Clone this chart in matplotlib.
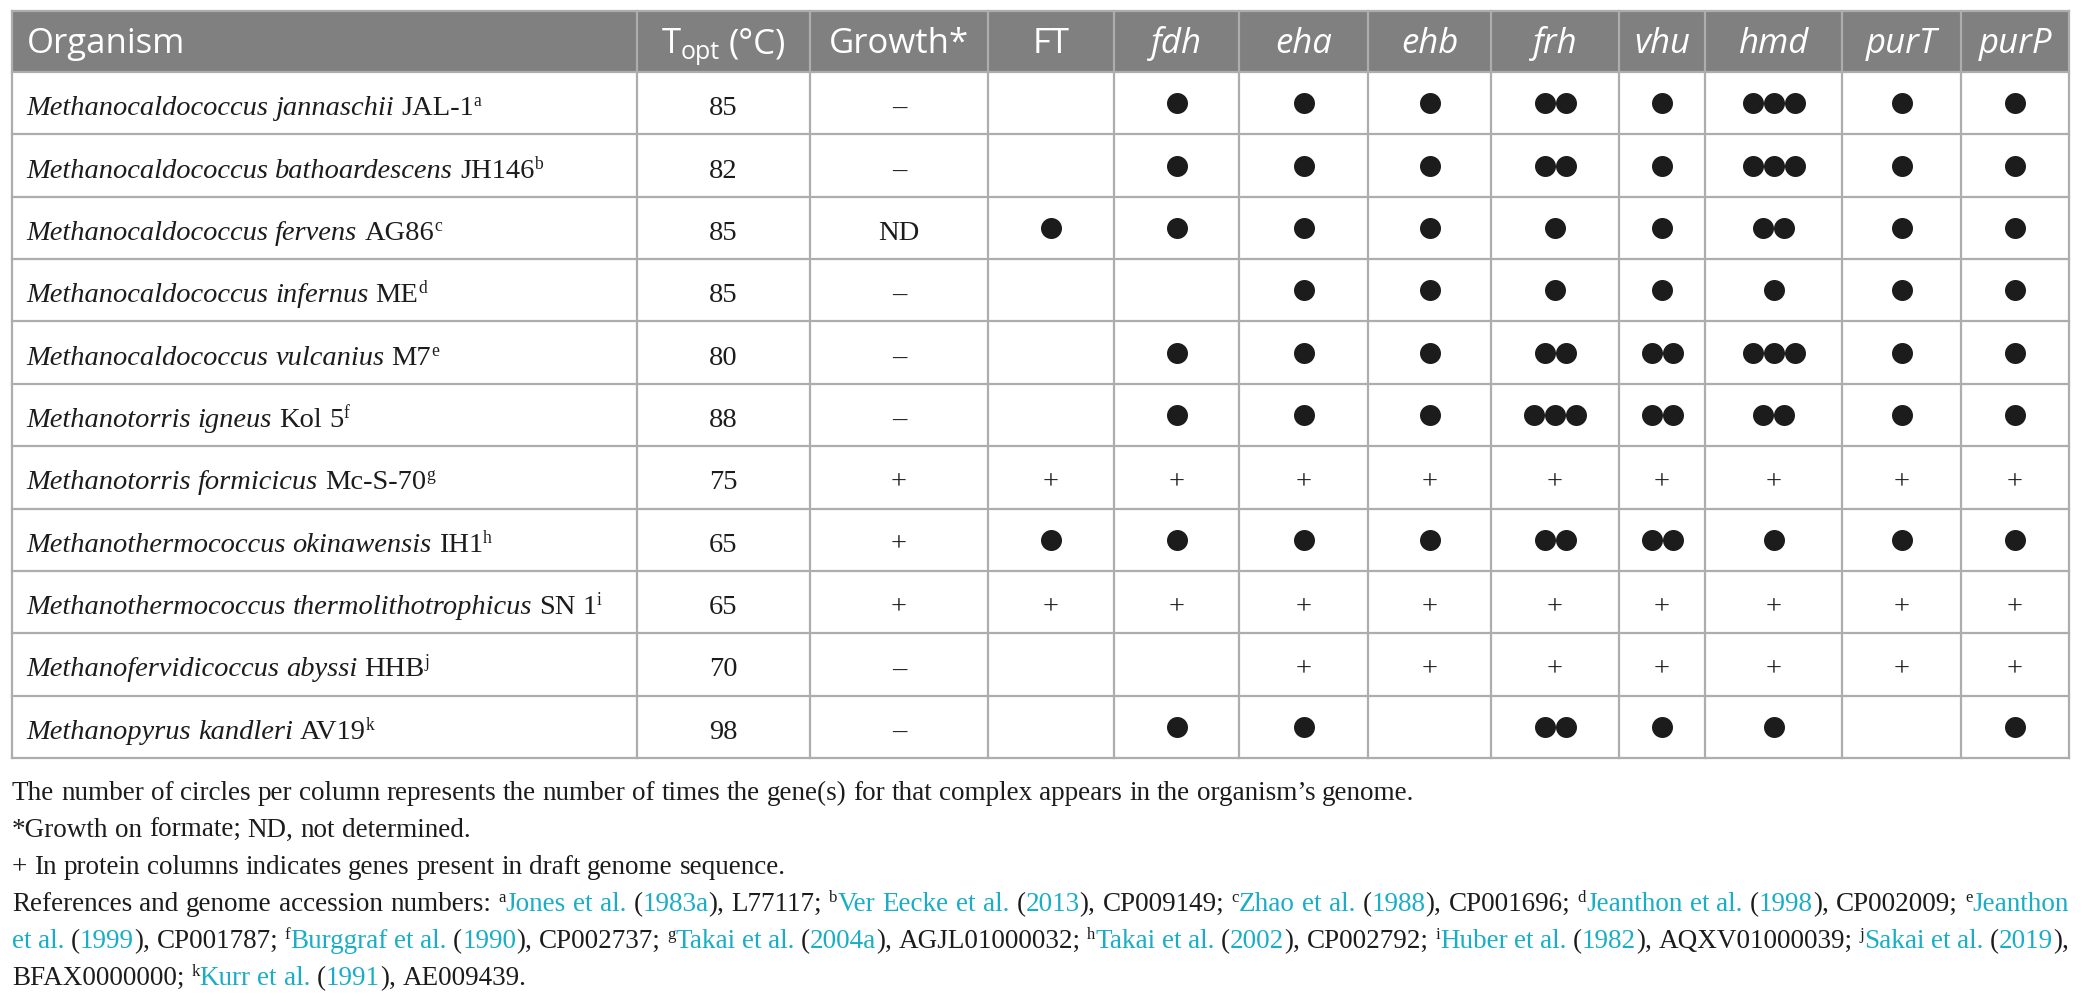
import matplotlib
matplotlib.use('Agg')
import matplotlib.pyplot as plt
from matplotlib.patches import Rectangle

W, H = 2082, 1003

# ---- table data
genus_species = [
    'Methanocaldococcus jannaschii', 'Methanocaldococcus bathoardescens',
    'Methanocaldococcus fervens', 'Methanocaldococcus infernus',
    'Methanocaldococcus vulcanius', 'Methanotorris igneus',
    'Methanotorris formicicus', 'Methanothermococcus okinawensis',
    'Methanothermococcus thermolithotrophicus', 'Methanofervidicoccus abyssi',
    'Methanopyrus kandleri',
]
strains = ['JAL-1', 'JH146', 'AG86', 'ME', 'M7', 'Kol 5', 'Mc-S-70', 'IH1', 'SN 1', 'HHB', 'AV19']
ref_marks = ['a', 'b', 'c', 'd', 'e', 'f', 'g', 'h', 'i', 'j', 'k']
t_opt = [85, 82, 85, 85, 80, 88, 75, 65, 65, 70, 98]
growth = ['–', '–', 'ND', '–', '–', '–', '+', '+', '+', '–', '–']

# gene columns: number of circles, '+' = present in draft genome, 0 = none
ft   = [0, 0, 1, 0, 0, 0, '+', 1, '+', 0, 0]
fdh  = [1, 1, 1, 0, 1, 1, '+', 1, '+', 0, 1]
eha  = [1, 1, 1, 1, 1, 1, '+', 1, '+', '+', 1]
ehb  = [1, 1, 1, 1, 1, 1, '+', 1, '+', '+', 0]
frh  = [2, 2, 1, 1, 2, 3, '+', 2, '+', '+', 2]
vhu  = [1, 1, 1, 1, 2, 2, '+', 2, '+', '+', 1]
hmd  = [3, 3, 2, 1, 3, 2, '+', 1, '+', '+', 1]
purT = [1, 1, 1, 1, 1, 1, '+', 1, '+', '+', 0]
purP = [1, 1, 1, 1, 1, 1, '+', 1, '+', '+', 1]

gene_names = ['FT', 'fdh', 'eha', 'ehb', 'frh', 'vhu', 'hmd', 'purT', 'purP']
gene_cols = [ft, fdh, eha, ehb, frh, vhu, hmd, purT, purP]

# ---- layout / style
col_edges = [12, 637, 810, 988, 1114, 1239, 1368, 1491, 1619, 1705, 1842, 1961, 2069]
top, head_bot, bottom = 12, 73, 759
n_rows = len(genus_species)
row_h = (bottom - head_bot) / n_rows

SERIF = 'Liberation Serif'
SANS = 'Open Sans'
INK = '#1c1c1c'
LINK = '#1aaec6'
GRID = '#adadad'
HEAD = '#808080'
BODY_PT = 20.5
FOOT_PT = 19.5
HEAD_PT = 25

fig = plt.figure(figsize=(W / 100, H / 100), dpi=100)
ax = fig.add_axes([0, 0, 1, 1])
ax.set_xlim(0, W)
ax.set_ylim(H, 0)
ax.axis('off')
renderer = fig.canvas.get_renderer()

_space_cache = {}


def width_of(t):
    return t.get_window_extent(renderer).width


def space_w(size, family):
    key = (size, family)
    if key not in _space_cache:
        a = ax.text(0, 0, 'n n', fontsize=size, family=family)
        b = ax.text(0, 0, 'nn', fontsize=size, family=family)
        _space_cache[key] = width_of(a) - width_of(b)
        a.remove()
        b.remove()
    return _space_cache[key]


def draw_runs(x, y, runs, ha='left', right=None):
    # runs: list of (text, kwargs); kwargs may hold 'dy' (pixel shift)
    items = []
    for text, kw in runs:
        kw = dict(kw)
        dy = kw.pop('dy', 0)
        for i, word in enumerate(text.split(' ')):
            if i:
                items.append(('sp', space_w(kw.get('fontsize', BODY_PT), kw.get('family', SERIF))))
            if word:
                t = ax.text(0, y + dy, word, va='baseline', ha='left', **kw)
                items.append(('w', t))
    widths = [width_of(v) if k == 'w' else v for k, v in items]
    total = sum(widths)
    n_sp = sum(1 for k, _ in items if k == 'sp')
    extra = 0
    if right is not None and n_sp:
        extra = (right - x - total) / n_sp
    if ha == 'center':
        x = x - total / 2
    for (k, v), w in zip(items, widths):
        if k == 'w':
            v.set_x(x)
            x += w
        else:
            x += w + extra


def serif(size=BODY_PT, color=INK, style='normal', dy=0):
    return dict(fontsize=size, color=color, family=SERIF, style=style, dy=dy)


def sup(size=BODY_PT, color=INK):
    return serif(size=size * 0.62, color=color, dy=-size * 0.44)


def sans(size=HEAD_PT, style='normal', dy=0):
    return dict(fontsize=size, color='white', family=SANS, style=style, dy=dy)


# ---- header
ax.add_patch(Rectangle((col_edges[0], top), col_edges[-1] - col_edges[0], head_bot - top,
                       facecolor=HEAD, edgecolor='none', zorder=0))
head_base = (top + head_bot) / 2 + 10.5
centers = [(a + b) / 2 for a, b in zip(col_edges[:-1], col_edges[1:])]
draw_runs(col_edges[0] + 15, head_base, [('Organism', sans())])
draw_runs(centers[1], head_base, [('T', sans()), ('opt', sans(HEAD_PT * 0.72, dy=6)),
                                  (' (°C)', sans())], ha='center')
draw_runs(centers[2], head_base, [('Growth*', sans())], ha='center')
for j, name in enumerate(gene_names):
    style = 'normal' if name == 'FT' else 'italic'
    draw_runs(centers[3 + j], head_base, [(name, sans(style=style))], ha='center')

# ---- body
dot_d = 21
dot_step = 21
for i in range(n_rows):
    yc = head_bot + (i + 0.5) * row_h
    base = yc + 11
    draw_runs(col_edges[0] + 14, base,
              [(genus_species[i], serif(style='italic')), (' ' + strains[i], serif()),
               (ref_marks[i], sup())])
    draw_runs(centers[1], base, [(str(t_opt[i]), serif())], ha='center')
    draw_runs(centers[2], base, [(growth[i], serif())], ha='center')
    for j, col in enumerate(gene_cols):
        cx = centers[3 + j]
        v = col[i]
        if v == '+':
            draw_runs(cx, base, [('+', serif())], ha='center')
        elif v:
            xs = [cx + (k - (v - 1) / 2) * dot_step for k in range(v)]
            ax.scatter(xs, [yc] * v, s=(dot_d * 0.72) ** 2, color=INK, linewidths=0, zorder=3)

# ---- grid
for k in range(n_rows + 1):
    y = head_bot + k * row_h
    ax.plot([col_edges[0], col_edges[-1]], [y, y], color=GRID, lw=1.6, zorder=2)
ax.plot([col_edges[0], col_edges[-1]], [top, top], color=GRID, lw=1.6, zorder=2)
for x in col_edges:
    ax.plot([x, x], [top, bottom], color=GRID, lw=1.6, zorder=2)

# ---- footnotes
k = serif(FOOT_PT)
c = serif(FOOT_PT, color=LINK)
s = sup(FOOT_PT)
foot = [
    [('The number of circles per column represents the number of times the gene(s) for that '
      'complex appears in the organism’s genome.', k)],
    [('*Growth on formate; ND, not determined.', k)],
    [('+ In protein columns indicates genes present in draft genome sequence.', k)],
    [('References and genome accession numbers: ', k), ('a', s), ('Jones et al.', c), (' (', k),
     ('1983a', c), ('), L77117; ', k), ('b', s), ('Ver Eecke et al.', c), (' (', k), ('2013', c),
     ('), CP009149; ', k), ('c', s), ('Zhao et al.', c), (' (', k), ('1988', c),
     ('), CP001696; ', k), ('d', s), ('Jeanthon et al.', c), (' (', k), ('1998', c),
     ('), CP002009; ', k), ('e', s), ('Jeanthon', c)],
    [('et al.', c), (' (', k), ('1999', c), ('), CP001787; ', k), ('f', s), ('Burggraf et al.', c),
     (' (', k), ('1990', c), ('), CP002737; ', k), ('g', s), ('Takai et al.', c), (' (', k),
     ('2004a', c), ('), AGJL01000032; ', k), ('h', s), ('Takai et al.', c), (' (', k), ('2002', c),
     ('), CP002792; ', k), ('i', s), ('Huber et al.', c), (' (', k), ('1982', c),
     ('), AQXV01000039; ', k), ('j', s), ('Sakai et al.', c), (' (', k), ('2019', c), ('),', k)],
    [('BFAX0000000; ', k), ('k', s), ('Kurr et al.', c), (' (', k), ('1991', c),
     ('), AE009439.', k)],
]
justified = [False, False, False, True, True, False]
for n, (line, just) in enumerate(zip(foot, justified)):
    draw_runs(col_edges[0], 800 + n * 37, line, right=col_edges[-1] if just else None)

fig.savefig('out.png', dpi=100, facecolor='white')
